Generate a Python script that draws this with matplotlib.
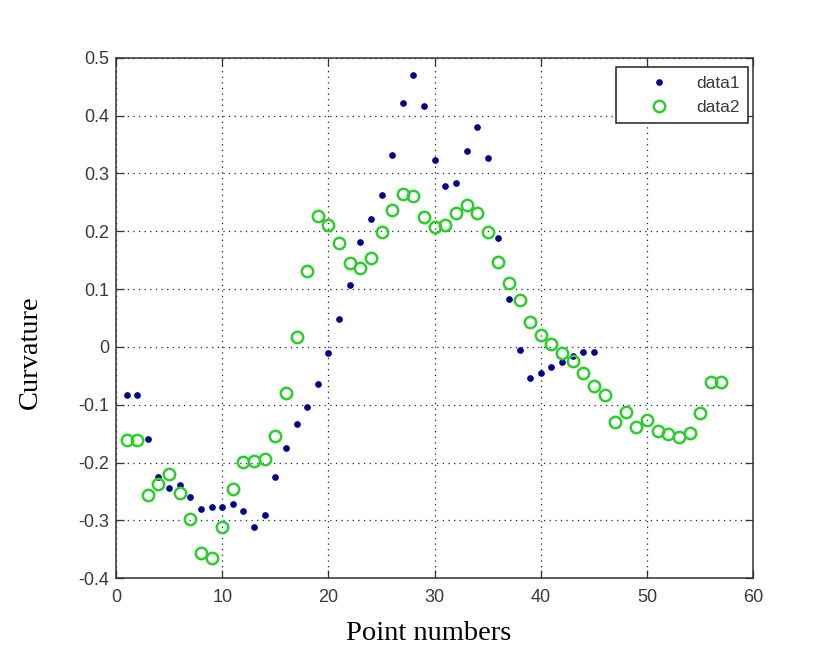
import numpy as np
import matplotlib
matplotlib.use("Agg")
import matplotlib.pyplot as plt

# Curvature values
x1 = np.arange(1, 46)
data1 = [-0.083, -0.083, -0.159, -0.225, -0.244, -0.239, -0.260, -0.280, -0.276, -0.276,
         -0.272, -0.284, -0.312, -0.291, -0.225, -0.175, -0.133, -0.104, -0.064, -0.011,
         0.049, 0.107, 0.182, 0.222, 0.262, 0.331, 0.422, 0.470, 0.416, 0.324,
         0.279, 0.284, 0.338, 0.380, 0.327, 0.189, 0.083, -0.006, -0.053, -0.045,
         -0.035, -0.026, -0.016, -0.009, -0.009]

x2 = np.arange(1, 58)
data2 = [-0.161, -0.161, -0.256, -0.237, -0.220, -0.253, -0.297, -0.357, -0.365, -0.312,
         -0.246, -0.199, -0.197, -0.193, -0.154, -0.080, 0.018, 0.132, 0.227, 0.210,
         0.180, 0.145, 0.137, 0.153, 0.198, 0.237, 0.265, 0.261, 0.224, 0.208,
         0.211, 0.232, 0.246, 0.232, 0.199, 0.147, 0.110, 0.081, 0.043, 0.021,
         0.005, -0.011, -0.024, -0.045, -0.067, -0.083, -0.130, -0.113, -0.138, -0.126,
         -0.146, -0.151, -0.156, -0.149, -0.115, -0.061, -0.061]

xticks = np.arange(0, 61, 10)
yticks = np.round(np.arange(-0.4, 0.51, 0.1), 1)
yticklabels = ["-0.4", "-0.3", "-0.2", "-0.1", "0", "0.1", "0.2", "0.3", "0.4", "0.5"]

fig = plt.figure(figsize=(8.17, 6.49), dpi=100)
ax = fig.add_axes([0.142, 0.109, 0.780, 0.802])

ax.plot(x1, data1, linestyle="none", marker="o", markersize=3.8,
        color="#00008b", label="data1", zorder=3)
ax.plot(x2, data2, linestyle="none", marker="o", markersize=8.2,
        markerfacecolor="none", markeredgecolor="#2fcc2f", markeredgewidth=1.8,
        label="data2", zorder=4)

ax.set_xlim(0, 60)
ax.set_ylim(-0.4, 0.5)
ax.set_xticks(xticks)
ax.set_yticks(yticks)
ax.set_yticklabels(yticklabels)

ax.grid(True, color="#222222", linestyle=(0, (1, 3.5)), linewidth=0.9)
ax.tick_params(direction="in", length=6, width=0.9, top=True, right=True,
               colors="#333333", labelsize=13)
ax.tick_params(axis="x", pad=8)
ax.tick_params(axis="y", pad=5)
for lab in ax.get_xticklabels() + ax.get_yticklabels():
    lab.set_fontfamily("Liberation Sans")
    lab.set_color("#3a3a3a")
for sp in ax.spines.values():
    sp.set_color("#333333")
    sp.set_linewidth(1.1)

ax.set_xlabel("Point numbers", family="Liberation Serif", fontsize=20.5)
ax.set_ylabel("Curvature", family="Liberation Serif", fontsize=20.5)
ax.xaxis.set_label_coords(0.49, -0.083)
ax.yaxis.set_label_coords(-0.114, 0.435)

leg = ax.legend(loc="upper right", bbox_to_anchor=(0.992, 0.982), fancybox=False,
                edgecolor="#222222", framealpha=1, borderaxespad=0,
                prop={"family": "Liberation Sans", "size": 12.5},
                handletextpad=0.2, borderpad=0.5, labelspacing=0.5, handlelength=3.9)
leg.get_frame().set_linewidth(1.1)
for t in leg.get_texts():
    t.set_color("#3a3a3a")

fig.savefig("out.png", dpi=100)
